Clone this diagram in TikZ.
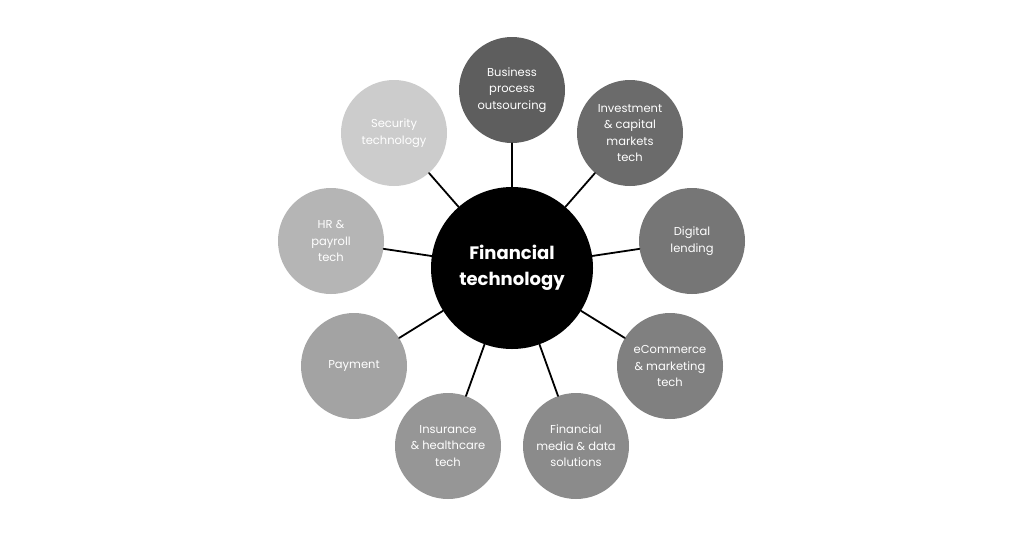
\documentclass[tikz,border=0pt]{standalone}
\usepackage{fontspec}
\setmainfont{Poppins}
\definecolor{gA}{HTML}{5E5E5E}
\definecolor{gB}{HTML}{6B6B6B}
\definecolor{gC}{HTML}{767676}
\definecolor{gD}{HTML}{808080}
\definecolor{gE}{HTML}{8B8B8B}
\definecolor{gF}{HTML}{969696}
\definecolor{gG}{HTML}{A3A3A3}
\definecolor{gH}{HTML}{B5B5B5}
\definecolor{gI}{HTML}{CCCCCC}
\begin{document}
\begin{tikzpicture}[x=1pt,y=-1pt,line join=round,line cap=round,
		hub/.style={circle,fill=black,text=white,minimum size=162pt,inner sep=0pt,align=center,font=\fontsize{18}{26}\selectfont\bfseries},
		spoke/.style={circle,text=white,minimum size=106pt,inner sep=0pt,align=center,font=\fontsize{11.5}{16.5}\selectfont},
		link/.style={line width=1.8pt}]
			\useasboundingbox[fill=white] (0,0) rectangle (1024,536);
			\node[hub] (fin) at (512,268) {Financial\\technology};
			\node[spoke,fill=gA] (bpo) at (512,90) {Business\\process\\outsourcing};
			\node[spoke,fill=gB] (inv) at (630,133) {Investment\\\& capital\\markets\\tech};
			\node[spoke,fill=gC] (lend) at (692,241) {Digital\\lending};
			\node[spoke,fill=gD] (ecom) at (670,366) {eCommerce\\\& marketing\\tech};
			\node[spoke,fill=gE] (media) at (576,446) {Financial\\media \& data\\solutions};
			\node[spoke,fill=gF] (ins) at (448,446) {Insurance\\\& healthcare\\tech};
			\node[spoke,fill=gG] (pay) at (354,366) {Payment};
			\node[spoke,fill=gH] (hr) at (331,241) {HR \&\\payroll\\tech};
			\node[spoke,fill=gI] (sec) at (394,133) {Security\\technology};
			% spokes
			\draw[link] (fin) -- (bpo);
			\draw[link] (fin) -- (inv);
			\draw[link] (fin) -- (lend);
			\draw[link] (fin) -- (ecom);
			\draw[link] (fin) -- (media);
			\draw[link] (fin) -- (ins);
			\draw[link] (fin) -- (pay);
			\draw[link] (fin) -- (hr);
			\draw[link] (fin) -- (sec);
		\end{tikzpicture}
\end{document}
